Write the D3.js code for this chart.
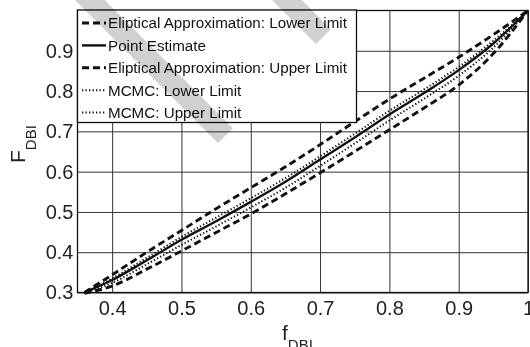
<!DOCTYPE html>
<html>
<head>
<meta charset="utf-8">
<script src="https://cdn.jsdelivr.net/npm/d3@7"></script>
<style>
    body { margin: 0; background: #fff; }
    svg { display: block; font-family: "Liberation Sans", Arial, sans-serif; }
</style>
</head>
<body>
<div class="chart"></div>
<script>
const fValues    = [0.36, 0.40, 0.45, 0.50, 0.55, 0.60, 0.65, 0.70, 0.75, 0.80, 0.85, 0.90, 0.95, 1.00];
// F_DBI for each series
const ellipLower = [0.298, 0.316, 0.358, 0.403, 0.449, 0.495, 0.545, 0.597, 0.650, 0.704, 0.758, 0.815, 0.893, 1.000];
const pointEst   = [0.300, 0.331, 0.380, 0.431, 0.477, 0.525, 0.575, 0.630, 0.685, 0.742, 0.795, 0.852, 0.918, 1.000];
const ellipUpper = [0.300, 0.344, 0.400, 0.454, 0.508, 0.560, 0.612, 0.667, 0.724, 0.780, 0.832, 0.884, 0.940, 1.000];
const mcmcLower  = [0.299, 0.324, 0.370, 0.418, 0.464, 0.511, 0.560, 0.614, 0.670, 0.727, 0.781, 0.838, 0.908, 1.000];
const mcmcUpper  = [0.300, 0.335, 0.386, 0.438, 0.486, 0.534, 0.584, 0.638, 0.694, 0.751, 0.804, 0.860, 0.925, 1.000];

const seriesNames = [
    "Eliptical Approximation: Lower Limit",
    "Point Estimate",
    "Eliptical Approximation: Upper Limit",
    "MCMC: Lower Limit",
    "MCMC: Upper Limit"
];

const xTicks = [0.4, 0.5, 0.6, 0.7, 0.8, 0.9, 1];
const yTicks = [0.3, 0.4, 0.5, 0.6, 0.7, 0.8, 0.9];

function drawChart() {
    let width = 530, height = 347;
    let margin = {top: 10.5, right: 2, bottom: 54.5, left: 77.5};
    let plotW = width - margin.left - margin.right,
        plotH = height - margin.top - margin.bottom;

    let svg = d3.select(".chart")
        .append("svg")
        .attr("width", width)
        .attr("height", height);

    let xScale = d3.scaleLinear()
        .domain([0.35, 1])
        .range([margin.left, width - margin.right]);

    let yScale = d3.scaleLinear()
        .domain([0.3, 1])
        .range([height - margin.bottom, margin.top]);

    let fmt = d => String(d);

    // x axis with grid lines
    let xAxis = svg.append("g")
        .attr("class", "x-axis")
        .attr("transform", "translate(0," + (height - margin.bottom) + ")")
        .call(d3.axisBottom(xScale).tickValues(xTicks).tickFormat(fmt).tickSize(-plotH).tickPadding(8));
    xAxis.select(".domain").remove();
    xAxis.selectAll("line").attr("stroke", "#333").attr("stroke-width", 1);
    xAxis.selectAll("text").attr("fill", "#222").style("font-size", "20px");

    // y axis with grid lines
    let yAxis = svg.append("g")
        .attr("class", "y-axis")
        .attr("transform", "translate(" + margin.left + ",0)")
        .call(d3.axisLeft(yScale).tickValues(yTicks).tickFormat(fmt).tickSize(-plotW).tickPadding(4));
    yAxis.select(".domain").remove();
    yAxis.selectAll("line").attr("stroke", "#333").attr("stroke-width", 1);
    yAxis.selectAll("text").attr("fill", "#222").style("font-size", "20px");

    // box round the plot
    svg.append("rect")
        .attr("x", margin.left)
        .attr("y", margin.top)
        .attr("width", plotW)
        .attr("height", plotH)
        .attr("fill", "none")
        .attr("stroke", "#111")
        .attr("stroke-width", 1.3);

    let styles = [
        {dash: "7,4", w: 2.9},
        {dash: null, w: 2.4},
        {dash: "7,4", w: 2.9},
        {dash: "1.3,2.2", w: 2},
        {dash: "1.3,2.2", w: 2}
    ];
    let series = [ellipLower, pointEst, ellipUpper, mcmcLower, mcmcUpper].map((vals, i) => {
        return { name: seriesNames[i], values: fValues.map((f, j) => ({ f: f, F: vals[j] })), style: styles[i] };
    });

    let line = d3.line()
        .x(d => xScale(d.f))
        .y(d => yScale(d.F))
        .curve(d3.curveMonotoneX);

    svg.append("g").selectAll("path")
        .data(series)
        .enter().append("path")
        .attr("d", d => line(d.values))
        .attr("fill", "none")
        .attr("stroke", "#111")
        .attr("stroke-width", d => d.style.w)
        .attr("stroke-dasharray", d => d.style.dash);

    // legend
    let lg = svg.append("g").attr("class", "legend");
    lg.append("rect")
        .attr("x", margin.left)
        .attr("y", margin.top - 0.5)
        .attr("width", 279)
        .attr("height", 112.5)
        .attr("fill", "#fff")
        .attr("stroke", "#111")
        .attr("stroke-width", 1.3);

    let item = lg.selectAll(".item")
        .data(series)
        .enter().append("g")
        .attr("transform", (d, i) => "translate(0," + (23 + i * 22.4) + ")");
    item.append("line")
        .attr("x1", 82).attr("x2", 106)
        .attr("stroke", "#111")
        .attr("stroke-width", d => d.style.w)
        .attr("stroke-dasharray", d => d.style.dash);
    item.append("text")
        .attr("x", 108)
        .attr("dy", "0.35em")
        .style("font-size", "15.2px")
        .attr("fill", "#111")
        .text(d => d.name);

    // axis labels
    let xl = svg.append("text")
        .attr("x", 282)
        .attr("y", 340)
        .attr("fill", "#222");
    xl.append("tspan").style("font-size", "21px").text("f");
    xl.append("tspan").attr("dy", 10).style("font-size", "15px").text("DBI");

    let yl = svg.append("text")
        .attr("transform", "translate(25,163) rotate(-90)")
        .attr("fill", "#222");
    yl.append("tspan").style("font-size", "21px").text("F");
    yl.append("tspan").attr("dy", 11).style("font-size", "15px").text("DBI");

    // light grey diagonal stripes lying over the picture
    let stripe = (tx, ty, w) => {
        let s = w / Math.SQRT2;
        return [[tx - ty - 20, -20], [tx, ty], [tx + s, ty - s], [tx + s - ty - 20 + s, -20]];
    };
    svg.append("g")
        .style("mix-blend-mode", "multiply")
        .selectAll("polygon")
        .data([stripe(218, 143, 21), stripe(316, 44, 21)])
        .enter().append("polygon")
        .attr("points", d => d.map(p => p.join(",")).join(" "))
        .attr("fill", "#d0d0d0");
}

drawChart();
</script>
</body>
</html>
